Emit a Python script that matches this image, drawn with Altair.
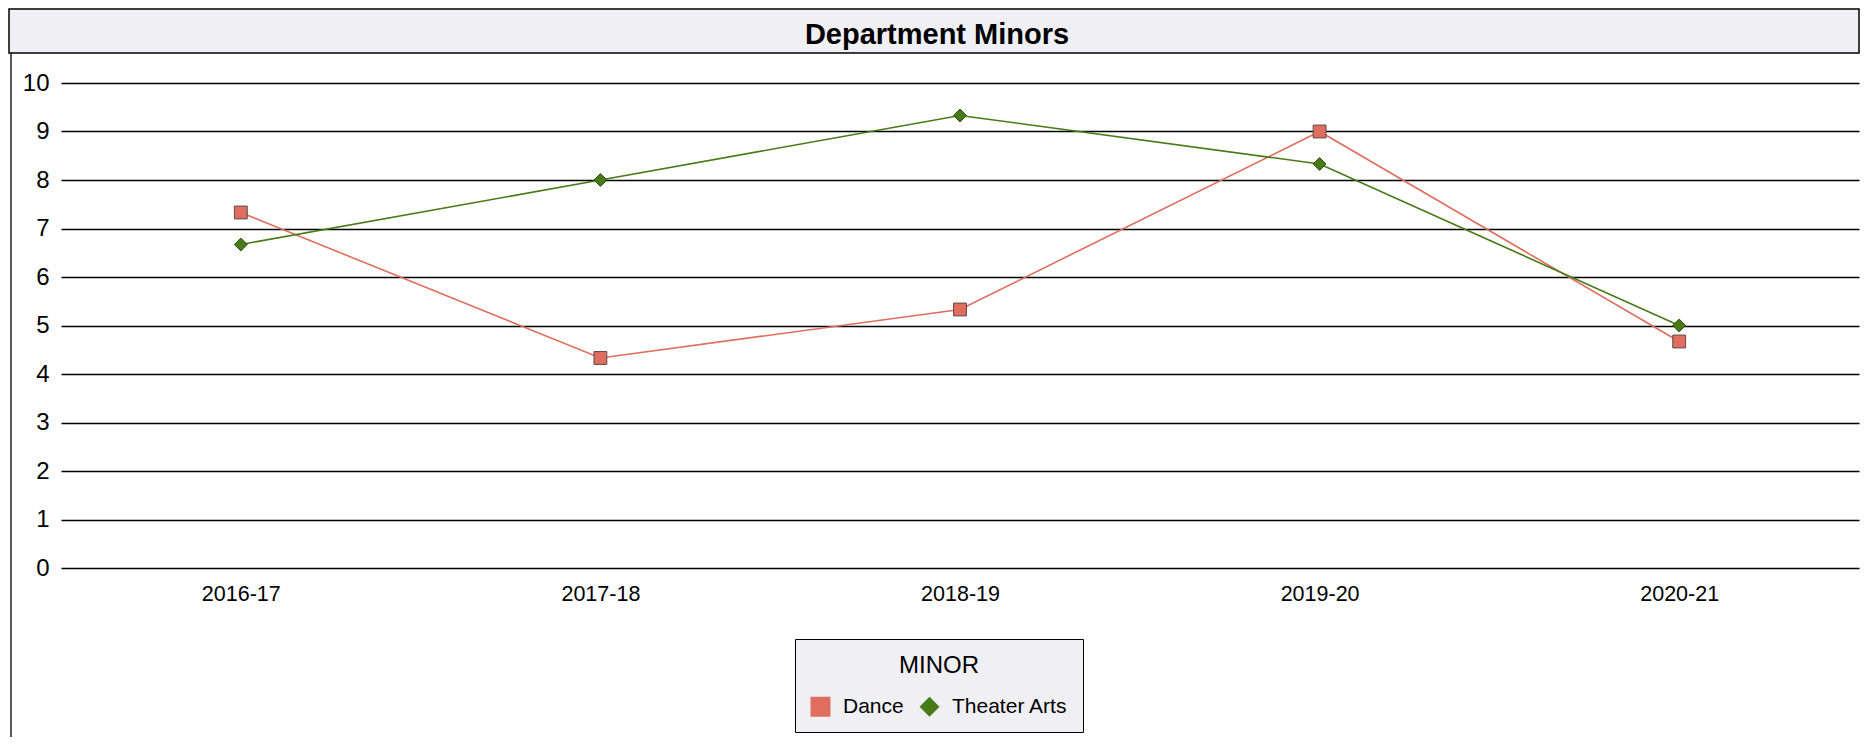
import altair as alt
import pandas as pd

years = ["2016-17", "2017-18", "2018-19", "2019-20", "2020-21"]
dance = [7.33, 4.33, 5.33, 9.0, 4.67]
theater = [6.67, 8.0, 9.33, 8.33, 5.0]
series = ["Dance", "Theater Arts"]
colors = ["#DF6E5F", "#487A17"]
y_ticks = list(range(0, 11))
chart_title = "Department Minors"
legend_title = "MINOR"

rows = []
for name, vals in zip(series, [dance, theater]):
    for yr, v in zip(years, vals):
        rows.append({"Year": yr, "Value": v, "MINOR": name})
df = pd.DataFrame(rows)

FONT = "Liberation Sans"
W, H = 1798, 485

x_enc = alt.X("Year:N", sort=years, scale=alt.Scale(type="point", padding=0.5),
              axis=alt.Axis(title=None, labelAngle=0, domain=False, ticks=False, grid=False,
                            labelPadding=15, labelFontSize=21.5, labelColor="black", labelFont=FONT))
y_enc = alt.Y("Value:Q", scale=alt.Scale(domain=[0, 10], nice=False),
              axis=alt.Axis(title=None, values=y_ticks, domain=False, ticks=False, grid=True,
                            gridColor="black", gridWidth=1.5, gridOpacity=1,
                            labelPadding=12, labelFontSize=24, labelColor="black", labelFont=FONT))

legend = alt.Legend(
    title=legend_title, orient="none", legendX=734, legendY=556, direction="horizontal",
    fillColor="#EFEFF4", strokeColor="black", padding=15,
    titleFont=FONT, titleFontSize=24, titleFontWeight="normal", titleColor="black",
    titleAnchor="middle", titleAlign="center", titlePadding=18,
    labelFont=FONT, labelFontSize=21, labelColor="black", labelOffset=12,
    symbolSize=400, symbolStrokeWidth=0, columnPadding=15,
)

lines = alt.Chart(df).mark_line(strokeWidth=1.6).encode(
    x=x_enc, y=y_enc,
    color=alt.Color("MINOR:N", scale=alt.Scale(domain=series, range=colors), legend=legend),
    detail="MINOR:N",
)

points = alt.Chart(df).mark_point(filled=True, size=165, opacity=1, strokeWidth=1).encode(
    x=x_enc, y=y_enc,
    color=alt.Color("MINOR:N", scale=alt.Scale(domain=series, range=colors), legend=legend),
    shape=alt.Shape("MINOR:N", scale=alt.Scale(domain=series, range=["square", "diamond"]),
                    legend=legend),
    stroke=alt.condition(alt.datum.MINOR == "Dance", alt.value("#5a4a48"), alt.value("#2c4a0e")),
)

one = pd.DataFrame({"t": [chart_title]})

title_box = alt.Chart(one).mark_rect(fill="#EFEFF4", stroke="black", strokeWidth=1.5).encode(
    x=alt.value(-52), x2=alt.value(1798), y=alt.value(-74), y2=alt.value(-30)
)
title_text = alt.Chart(one).mark_text(font=FONT, fontSize=29, fontWeight="bold", color="black",
                                      align="center", baseline="alphabetic").encode(
    x=alt.value(876), y=alt.value(-39), text="t:N"
)
left_line = alt.Chart(one).mark_rule(color="black", strokeWidth=1.3).encode(
    x=alt.value(-50), y=alt.value(-30), y2=alt.value(660)
)

chart = alt.layer(title_box, title_text, left_line, lines, points).properties(
    width=W, height=H,
    autosize=alt.AutoSizeParams(type="none"),
    padding={"left": 53, "top": 75, "right": 1, "bottom": 169},
).configure_view(stroke=None)

chart.save("out.html", embed_options={"renderer": "svg", "actions": False})
